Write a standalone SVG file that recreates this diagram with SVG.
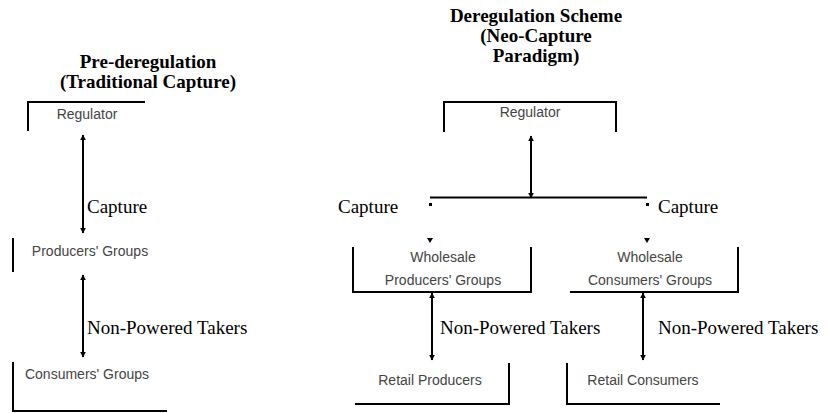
<svg xmlns="http://www.w3.org/2000/svg" width="830" height="413" viewBox="0 0 830 413">
<defs>
<marker id="ah" viewBox="0 0 10 10" refX="9" refY="5" markerWidth="6" markerHeight="6" orient="auto-start-reverse" markerUnits="userSpaceOnUse">
<path d="M0,0 L10,5 L0,10 z" fill="#000"/>
</marker>
</defs>
<style>
.title{font-family:"Liberation Serif","Times New Roman",serif;font-weight:bold;font-size:19px;fill:#000;text-anchor:middle}
.lbl{font-family:"Liberation Serif","Times New Roman",serif;font-size:19px;fill:#000}
.node{font-family:"Liberation Sans",Arial,sans-serif;font-size:14px;fill:#444;text-anchor:middle}
.bx{fill:none;stroke:#000;stroke-width:2}
.cn{fill:none;stroke:#000;stroke-width:2}
</style>
<rect width="830" height="413" fill="#fff"/>
<text class="title" x="148" y="68">Pre-deregulation</text>
<text class="title" x="148" y="88">(Traditional Capture)</text>
<text class="title" x="536" y="22">Deregulation Scheme</text>
<text class="title" x="536" y="42">(Neo-Capture</text>
<text class="title" x="536" y="62">Paradigm)</text>

<g id="left-regulator">
<path class="bx" d="M28,131 V102 H145"/>
<text class="node" x="87" y="119">Regulator</text>
</g>
<g id="left-producers">
<path class="bx" d="M13,238 V272"/>
<text class="node" x="90" y="256">Producers' Groups</text>
</g>
<g id="left-consumers">
<path class="bx" d="M13,362 V411 H167"/>
<text class="node" x="87" y="379">Consumers' Groups</text>
</g>
<g id="right-regulator">
<path class="bx" d="M444,132 V102 H616 V132"/>
<text class="node" x="530" y="117">Regulator</text>
</g>
<g id="wholesale-producers">
<path class="bx" d="M353,247 V292 H531 V247"/>
<text class="node" x="443" y="262">Wholesale</text>
<text class="node" x="443" y="285">Producers' Groups</text>
</g>
<g id="wholesale-consumers">
<path class="bx" d="M570,292 H738 V247"/>
<text class="node" x="650" y="262">Wholesale</text>
<text class="node" x="650" y="285">Consumers' Groups</text>
</g>
<g id="retail-producers">
<path class="bx" d="M355,404 H509 V363"/>
<text class="node" x="430" y="385">Retail Producers</text>
</g>
<g id="retail-consumers">
<path class="bx" d="M567,363 V404 H720"/>
<text class="node" x="643" y="385">Retail Consumers</text>
</g>

<g id="connectors">
<line class="cn" x1="83" y1="135" x2="83" y2="233" marker-start="url(#ah)" marker-end="url(#ah)"/>
<line class="cn" x1="83" y1="275" x2="83" y2="357" marker-start="url(#ah)" marker-end="url(#ah)"/>
<line class="cn" x1="531" y1="136" x2="531" y2="198" marker-start="url(#ah)" marker-end="url(#ah)"/>
<line class="cn" x1="430" y1="197.5" x2="647" y2="197.5"/>
<rect x="429" y="203" width="3" height="3" fill="#000"/>
<rect x="646" y="203" width="3" height="3" fill="#000"/>
<path d="M427,238 L433,238 L430,243 z" fill="#000"/>
<path d="M644,238 L650,238 L647,243 z" fill="#000"/>
<line class="cn" x1="432" y1="293" x2="432" y2="360" marker-start="url(#ah)" marker-end="url(#ah)"/>
<line class="cn" x1="643" y1="293" x2="643" y2="360" marker-start="url(#ah)" marker-end="url(#ah)"/>
<text class="lbl" x="87" y="213">Capture</text>
<text class="lbl" x="87" y="334">Non-Powered Takers</text>
<text class="lbl" x="338" y="213">Capture</text>
<text class="lbl" x="658" y="213">Capture</text>
<text class="lbl" x="440" y="334">Non-Powered Takers</text>
<text class="lbl" x="658" y="334">Non-Powered Takers</text>
</g>
</svg>
